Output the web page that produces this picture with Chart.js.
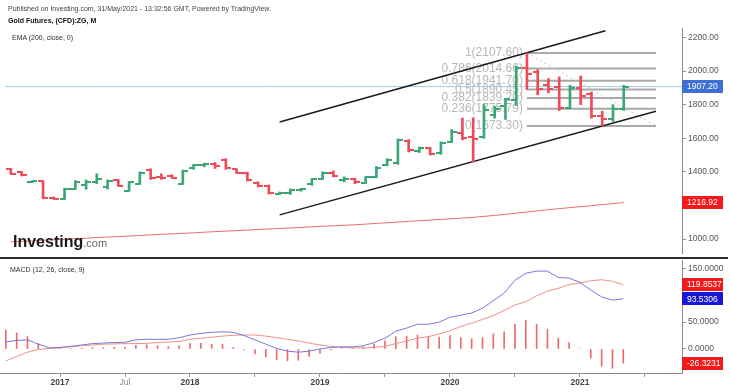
<!DOCTYPE html>
<html><head><meta charset="utf-8">
<script src="https://cdn.jsdelivr.net/npm/chart.js@4.4.0/dist/chart.umd.min.js"></script>
<style>
html,body{margin:0;padding:0;background:#fff;}
#wrap{position:relative;width:730px;height:392px;overflow:hidden;font-family:Arial,"Liberation Sans",sans-serif;}
canvas{position:absolute;left:0;}
#main{top:0;}
#macd{top:258px;}
.t{position:absolute;white-space:nowrap;line-height:8px;font-size:7px;}
#sep{position:absolute;left:0;top:257px;width:728px;height:2px;background:#2b2b2b;}
#logo{position:absolute;left:13px;top:234px;white-space:nowrap;line-height:16px;}
</style></head><body>
<div id="wrap">
<canvas id="main" width="730" height="258"></canvas>
<canvas id="macd" width="730" height="134"></canvas>
<div id="sep"></div>
<div class="t" style="left:8px;top:5px;color:#444">Published on Investing.com, 31/May/2021 - 13:32:56 GMT, Powered by TradingView.</div>
<div class="t" style="left:8px;top:17px;color:#111;font-weight:bold">Gold Futures, (CFD):ZG, M</div>
<div class="t" style="left:12px;top:34px;color:#333">EMA (200, close, 0)</div>
<div class="t" style="left:10px;top:266px;color:#333">MACD (12, 26, close, 9)</div>
<div id="logo"><span style="font-size:16px;font-weight:bold;color:#1a1a1a">Investing</span><span style="font-size:11px;color:#666">.com</span></div>
</div>
<script>
// ---- data ----
const months = ['2016-08','2016-09','2016-10','2016-11','2016-12',
 '2017-01','2017-02','2017-03','2017-04','2017-05','2017-06','2017-07','2017-08','2017-09','2017-10','2017-11','2017-12',
 '2018-01','2018-02','2018-03','2018-04','2018-05','2018-06','2018-07','2018-08','2018-09','2018-10','2018-11','2018-12',
 '2019-01','2019-02','2019-03','2019-04','2019-05','2019-06','2019-07','2019-08','2019-09','2019-10','2019-11','2019-12',
 '2020-01','2020-02','2020-03','2020-04','2020-05','2020-06','2020-07','2020-08','2020-09','2020-10','2020-11','2020-12',
 '2021-01','2021-02','2021-03','2021-04','2021-05'];
const openP  = [1415,1398,1340,1344,1246, 1240,1300,1320,1340,1310,1350,1288,1330,1408,1372,1375,1330,
 1420,1440,1445,1470,1415,1395,1335,1318,1270,1272,1292,1325, 1360,1395,1350,1355,1335,1370,1442,1450,1582,1525,1540,1510,
 1580,1630,1605,1610,1740,1790,1825,2020,1995,1915,1905,1780, 1900,1865,1730,1712,1772];
const highP  = [1420,1402,1347,1347,1250, 1303,1348,1352,1388,1352,1354,1342,1400,1418,1388,1383,1410,
 1445,1452,1455,1478,1418,1398,1340,1322,1280,1298,1302,1360, 1400,1405,1370,1362,1372,1432,1478,1596,1592,1548,1546,1578,
 1652,1720,1722,1800,1790,1838,2030,2107.6,2008,1955,1965,1915, 1970,1875,1760,1800,1915];
const lowP   = [1385,1375,1336,1240,1236, 1236,1296,1296,1330,1298,1313,1284,1325,1355,1355,1360,1325,
 1415,1430,1420,1415,1390,1345,1310,1268,1265,1266,1285,1320, 1355,1370,1340,1330,1330,1365,1436,1445,1518,1515,1500,1505,
 1575,1590,1458,1600,1720,1712,1795,1890,1858,1870,1765,1775, 1800,1720,1673.3,1700,1765];
const closeP = [1390,1380,1344,1245,1240, 1298,1340,1338,1360,1345,1318,1338,1395,1362,1365,1362,1405,
 1440,1448,1432,1420,1395,1350,1315,1275,1275,1293,1298,1355, 1395,1375,1358,1338,1368,1425,1470,1588,1528,1543,1505,1570,
 1635,1600,1598,1770,1775,1832,2015,1985,1895,1895,1780,1900, 1850,1730,1715,1772,1907.2];
const ema200 = [983,986,989,993,996, 999,1002,1005,1009,1012,1015,1018,1021,1025,1028,1031,1034,
 1037,1041,1044,1047,1050,1053,1057,1060,1063,1066,1069,1073, 1076,1079,1082,1085,1089,1093,1097,1101,1105,1109,1113,1117,
 1121,1125,1129,1135,1141,1147,1154,1161,1168,1175,1181,1187, 1193,1199,1205,1211,1216.92];
const macdLine = [13,16,17,9,2, 3,5,7.5,10,11,12,12.5,17,18,18,18,21,
 26,29,31,32,31,25,17,9,1,-4,-6,-4, 0,3,4,4,6,12,20,33,39,46,46,50,
 59,63,67,76,90,104,128,141,145,145,133,132, 124,110,97,91,93.5306];
const signalLine = [-22,-14,-6,-1,1, 2,4,6,7.5,9,9.5,10,10,10.5,12,13,14,
 18,20,22,24,25.5,26,26,24,21,18,15,11, 7.5,5,3,2,2,3,5,10,15,20,23,28,
 34,42,48,55,62,72,82,88,99,108,113,120, 123,127,129,126,119.8537];
const histogram = [35,30,23,10,1, 1,1,1.5,2.5,2.5,3,3,7,8,6,4.5,6,
 10,10.5,9,8.7,3,-1.5,-9,-15,-20,-22,-21,-14, -8,-2,1,2,4,9,15,23,24,26,23,22,
 25,21,19,21,28,32,46,53,46,37,20,12, 1,-17,-32,-36,-26.3231];
const priceTicks = [1000,1200,1400,1600,1800,2000,2200];
const macdTicks = [0,50,150];
const timeTickMonths = ['2017-01','2017-07','2018-01','2018-07','2019-01','2019-07','2020-01','2020-07','2021-01','2021-07'];
const timeTickLabels = ['2017','Jul','2018','','2019','','2020','','2021',''];
const fibLevels = [1,0.786,0.618,0.5,0.382,0.236,0];
const fibPrices = [2107.60,2014.66,1941.70,1890.45,1839.20,1775.79,1673.30];
const fibRange = [48, 60];            // month positions (Aug 2020 -> Aug 2021)
const channelUpper = [[25,1697],[55.3,2240]];
const channelLower = [[25,1144],[60,1761]];
const xRange = [-0.54, 62.42];
const priceRange = [917, 2256];
const macdRange = [-44.7, 165.7];

// ---- helpers ----
const UP = '#3aa676', DOWN = '#ef4a5a';
const monthPos = m => { const [y, mo] = m.split('-').map(Number); return (y - 2016) * 12 + (mo - 8); };
function tickImg(color, side) {
  const c = document.createElement('canvas'); c.width = 10; c.height = 2;
  const g = c.getContext('2d'); g.fillStyle = color;
  if (side === 'L') g.fillRect(0, 0, 5, 2); else g.fillRect(5, 0, 5, 2);
  return c;
}
const imgs = {oU: tickImg(UP,'L'), oD: tickImg(DOWN,'L'), cU: tickImg(UP,'R'), cD: tickImg(DOWN,'R')};
const isUp = i => closeP[i] >= openP[i];
const pts = arr => arr.map((v, i) => ({x: i, y: v}));
const seg = (a) => a.map(p => ({x: p[0], y: p[1]}));
const last = a => a[a.length - 1];

Chart.defaults.font.family = 'Arial';
Chart.defaults.animation = false;

function fixY(width) { return s => { s.width = width; s.paddingTop = 0; s.paddingBottom = 0; }; }

const fibLabelPlugin = {
  id: 'fibLabels',
  beforeDatasetsDraw(chart) {
    const {ctx, scales: {x, y}} = chart;
    ctx.save();
    ctx.font = '12px Arial'; ctx.fillStyle = '#b8b8b8';
    ctx.textAlign = 'right'; ctx.textBaseline = 'middle';
    fibLevels.forEach((lv, k) => ctx.fillText(lv + '(' + fibPrices[k].toFixed(2) + ')', x.getPixelForValue(fibRange[0]) - 4, y.getPixelForValue(fibPrices[k])));
    ctx.restore();
  }
};
function boxPlugin(id, scaleId, items) {
  return { id, afterDraw(chart) {
    const ctx = chart.ctx, s = chart.scales[scaleId], a = chart.chartArea;
    ctx.save(); ctx.font = '8.5px Arial'; ctx.textBaseline = 'middle'; ctx.textAlign = 'left';
    items.forEach(it => {
      const y = s.getPixelForValue(it.value);
      ctx.fillStyle = it.bg; ctx.fillRect(a.right, Math.round(y - 6.5), 41, 13);
      ctx.fillStyle = '#fff'; ctx.fillText(it.text, a.right + 5, y + 0.5);
    });
    ctx.restore();
  }};
}

// ---- main price chart ----
const fibDatasets = fibPrices.map(p => ({type: 'line', data: [{x: fibRange[0], y: p}, {x: fibRange[1], y: p}], borderColor: '#a9a9a9', borderWidth: 2, pointRadius: 0, order: 6}));
new Chart(document.getElementById('main'), {
  type: 'scatter',
  data: { datasets: [
    {type: 'scatter', data: pts(openP), pointRadius: 3, pointStyle: c => isUp(c.dataIndex) ? imgs.oU : imgs.oD, order: 0},
    {type: 'scatter', data: pts(closeP), pointRadius: 3, pointStyle: c => isUp(c.dataIndex) ? imgs.cU : imgs.cD, order: 0},
    {type: 'bar', data: lowP.map((v, i) => ({x: i, y: [v, highP[i]]})), barThickness: 2, backgroundColor: c => isUp(c.dataIndex) ? UP : DOWN, borderWidth: 0, order: 1},
    {type: 'line', data: seg(channelUpper), borderColor: '#1a1a1a', borderWidth: 1.5, pointRadius: 0, order: 2},
    {type: 'line', data: seg(channelLower), borderColor: '#1a1a1a', borderWidth: 1.5, pointRadius: 0, order: 2},
    {type: 'line', data: pts(ema200), borderColor: '#ef6b6b', borderWidth: 1, pointRadius: 0, order: 4},
    {type: 'line', data: [{x: fibRange[0], y: fibPrices[0]}, {x: fibRange[1], y: last(fibPrices)}], borderColor: '#c4c4c4', borderWidth: 1, borderDash: [2, 3], pointRadius: 0, order: 5},
    ...fibDatasets,
    {type: 'line', data: [{x: xRange[0], y: last(closeP)}, {x: xRange[1], y: last(closeP)}], borderColor: '#a8c8ec', borderWidth: 1, pointRadius: 0, order: 7}
  ]},
  options: {
    responsive: false, animation: false,
    layout: {padding: {top: 28, left: 0, right: 0, bottom: 0}},
    plugins: {legend: {display: false}, tooltip: {enabled: false}},
    scales: {
      x: {type: 'linear', min: xRange[0], max: xRange[1], offset: false, grid: {offset: false}, display: false},
      y: {type: 'linear', position: 'right', min: priceRange[0], max: priceRange[1],
        afterBuildTicks: s => { s.ticks = priceTicks.map(v => ({value: v})); },
        afterFit: fixY(48),
        grid: {drawOnChartArea: false, drawTicks: true, tickLength: 4, color: '#9a9a9a'},
        border: {display: true, color: '#8a8a8a'},
        ticks: {color: '#555', padding: 2, font: {size: 8.5}, callback: v => Number(v).toFixed(2)}}
    }
  },
  plugins: [fibLabelPlugin, boxPlugin('mainBoxes', 'y', [
    {value: last(closeP), bg: '#3d6fd6', text: last(closeP).toFixed(2)},
    {value: last(ema200), bg: '#f21a1a', text: last(ema200).toFixed(2)}])]
});

// ---- MACD chart ----
new Chart(document.getElementById('macd'), {
  type: 'scatter',
  data: { datasets: [
    {type: 'line', data: pts(macdLine), borderColor: '#7777d9', borderWidth: 1, pointRadius: 0, order: 0},
    {type: 'line', data: pts(signalLine), borderColor: '#f09088', borderWidth: 1, pointRadius: 0, order: 1},
    {type: 'bar', data: pts(histogram), barThickness: 1, backgroundColor: '#ee6a6a', borderWidth: 0, order: 2}
  ]},
  options: {
    responsive: false, animation: false,
    layout: {padding: {top: 2, left: 0, right: 0, bottom: 0}},
    plugins: {legend: {display: false}, tooltip: {enabled: false}},
    scales: {
      x: {type: 'linear', min: xRange[0], max: xRange[1], offset: false,
        afterBuildTicks: s => { s.ticks = timeTickMonths.map(m => ({value: monthPos(m)})); },
        afterFit: s => { s.height = 19; s.paddingLeft = 0; s.paddingRight = 0; },
        grid: {offset: false, drawOnChartArea: false, drawTicks: true, tickLength: 4, color: '#9a9a9a'},
        border: {display: true, color: '#8a8a8a'},
        ticks: {autoSkip: false, maxRotation: 0, padding: 1,
          color: c => timeTickLabels[c.index] === 'Jul' ? '#888' : '#444',
          font: c => ({size: 8.5, weight: timeTickLabels[c.index] === 'Jul' ? 'normal' : 'bold'}),
          callback: (v, i) => timeTickLabels[i]}},
      y: {type: 'linear', position: 'right', min: macdRange[0], max: macdRange[1],
        afterBuildTicks: s => { s.ticks = macdTicks.map(v => ({value: v})); },
        afterFit: fixY(48),
        grid: {drawOnChartArea: false, drawTicks: true, tickLength: 4, color: '#9a9a9a'},
        border: {display: true, color: '#8a8a8a'},
        ticks: {color: '#555', padding: 2, font: {size: 8.5}, callback: v => Number(v).toFixed(4)}}
    }
  },
  plugins: [boxPlugin('macdBoxes', 'y', [
    {value: last(signalLine), bg: '#f01a1a', text: last(signalLine).toFixed(4)},
    {value: last(macdLine), bg: '#1818d8', text: last(macdLine).toFixed(4)},
    {value: last(histogram), bg: '#f01a1a', text: last(histogram).toFixed(4)}])]
});
</script>
</body></html>
